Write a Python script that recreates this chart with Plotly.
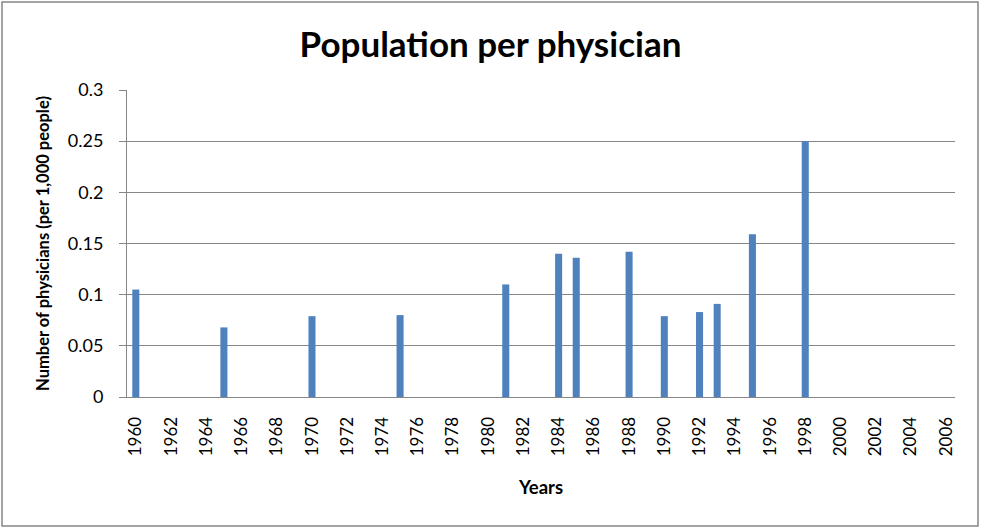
import plotly.graph_objects as go

years = [str(y) for y in range(1960, 2007)]
bar_years = ["1960", "1965", "1970", "1975", "1981", "1984", "1985", "1988",
             "1990", "1992", "1993", "1995", "1998"]
bar_values = [0.105, 0.068, 0.079, 0.080, 0.110, 0.140, 0.136, 0.142,
              0.079, 0.083, 0.091, 0.159, 0.250]
y_ticks = [0, 0.05, 0.1, 0.15, 0.2, 0.25, 0.3]
y_labels = ["0", "0.05", "0.1", "0.15", "0.2", "0.25", "0.3"]
x_tick_labels = years[::2]

W, H = 981, 529
ml, mr, mt, mb = 127, 26, 90, 132
pw, ph = W - ml - mr, H - mt - mb

fig = go.Figure()
fig.add_trace(go.Bar(x=bar_years, y=bar_values, marker_color="#4F81BD",
                     marker_line_width=0, width=0.4))

font = "Lato, Carlito, Calibri, sans-serif"
fig.update_layout(
    width=W, height=H,
    margin=dict(l=ml, r=mr, t=mt, b=mb, autoexpand=False),
    paper_bgcolor="white", plot_bgcolor="white",
    showlegend=False,
    font=dict(family=font, color="#000000"),
    title=dict(text="<b>Population per physician</b>", x=0.5, xanchor="center",
               y=1 - 45 / H, yanchor="middle", font=dict(size=35, family=font)),
    bargap=0.6,
)
fig.update_xaxes(type="category", categoryorder="array", categoryarray=years,
                 range=[-0.5, len(years) - 0.5],
                 tickmode="array", tickvals=x_tick_labels, ticktext=x_tick_labels,
                 tickangle=-90, tickfont=dict(size=17, family=font),
                 ticklabelstandoff=12,
                 showline=True, linecolor="#868686", linewidth=1,
                 showgrid=False, ticks="", ticklen=0,
                 title=dict(text="<b>Years</b>", font=dict(size=18.5, family=font), standoff=25))
fig.update_yaxes(range=[0, 0.3], tickmode="array", tickvals=y_ticks, ticktext=y_labels,
                 tickfont=dict(size=18, family=font),
                 ticklabelstandoff=12,
                 showgrid=True, gridcolor="#868686", gridwidth=1,
                 showline=True, linecolor="#868686", linewidth=1,
                 ticks="outside", ticklen=7, tickcolor="#868686",
                 zeroline=False,
                 title=dict(text="<b>Number of physicians (per 1,000 people)</b>",
                            font=dict(size=16.5, family=font), standoff=14))
# outer chart border
fig.add_shape(type="rect", xref="paper", yref="paper",
              x0=(2 - ml) / pw, x1=(W - 3 - ml) / pw,
              y0=-(mb - 3) / ph, y1=(ph + mt - 2) / ph,
              line=dict(color="#868686", width=1.5), fillcolor="rgba(0,0,0,0)", layer="below")
fig.write_html("out.html", config={"displayModeBar": False},
               post_script="document.body.style.margin='0';document.body.style.overflow='hidden';")
